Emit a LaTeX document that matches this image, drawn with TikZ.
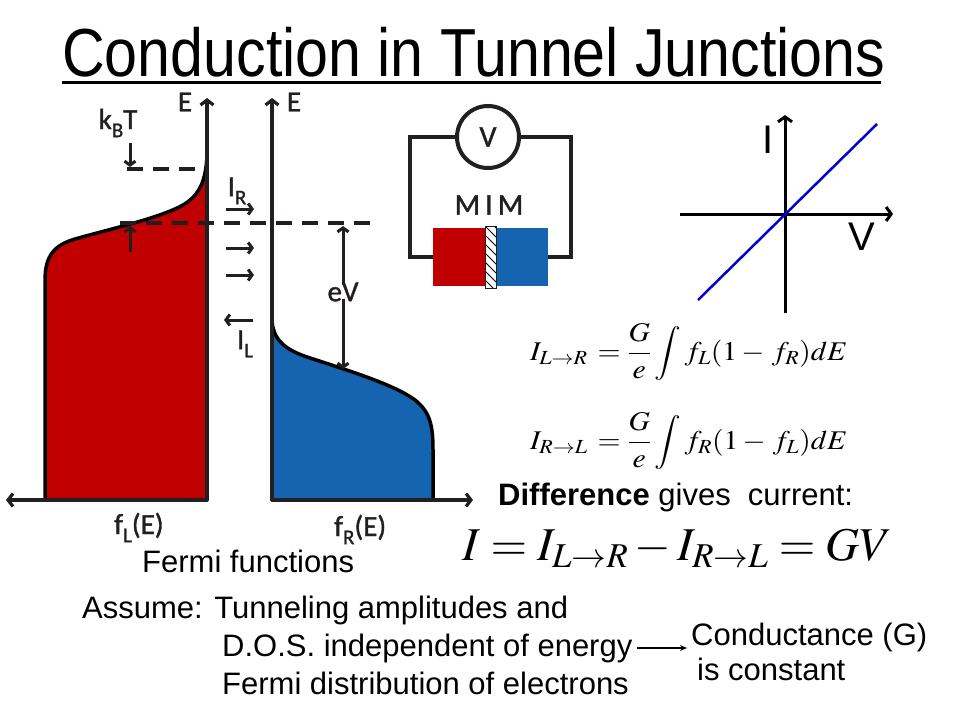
\documentclass[tikz,border=0pt]{standalone}
\usepackage{mathptmx}
\usepackage[no-math]{fontspec}
\setmainfont{Liberation Sans}
\newfontfamily\cali{Carlito}[FakeBold=1.2]
\usetikzlibrary{arrows.meta}
\DeclareMathSizes{27}{27}{20}{15}
\DeclareMathSizes{50}{50}{37}{28}
\definecolor{ink}{HTML}{231F20}
\definecolor{jred}{RGB}{192,0,0}
\definecolor{jblue}{RGB}{20,100,175}
\definecolor{ivblue}{RGB}{0,0,210}
\newcommand\lsub[1]{\raisebox{-0.28em}{\fontsize{21}{22}\selectfont #1}}
\tikzset{
  axisline/.style={line width=3.2pt, draw=ink, line cap=round, -{Straight Barb[length=5pt,width=13pt]}},
  smallarr/.style={line width=3pt, draw=ink, -{Straight Barb[length=4pt,width=11pt]}},
  outline/.style={line width=3.5pt, draw=black, line join=round},
  dashline/.style={line width=3.5pt, draw=ink, dash pattern=on 16pt off 10pt},
  wire/.style={line width=4pt, draw=ink, line join=miter},
  lab/.style={font=\cali\fontsize{29}{31}\selectfont, text=ink, inner sep=0pt},
  txt/.style={font=\fontsize{31}{36}\selectfont, text=black, inner sep=0pt},
  big/.style={font=\fontsize{40}{44}\selectfont, text=black, inner sep=0pt},
  ivaxis/.style={line width=3pt, draw=black, -{Straight Barb[length=5pt,width=14pt]}},
}
\begin{document}
\begin{tikzpicture}[x=1pt, y=-1pt]
\fill[white] (0,0) rectangle (960,720);
\useasboundingbox (0,0) rectangle (960,720);

% Title
\node[anchor=base west, inner sep=0pt, font=\fontsize{68}{80}\selectfont] (title) at (62,76) {\scalebox{0.87}[1]{Conduction in Tunnel Junctions}};
\draw[line width=3.5pt] (62,82.5) -- (881,82.5);

% Fermi functions: fills
\fill[jred] (45,500) -- (45,280) .. controls (45,255) and (55,245) .. (75,239) .. controls (110,229) and (160,218) .. (183,205) .. controls (200,195) and (206,180) .. (207,155) -- (207,500) -- cycle;
\draw[outline] (45,500) -- (45,280) .. controls (45,255) and (55,245) .. (75,239) .. controls (110,229) and (160,218) .. (183,205) .. controls (200,195) and (206,180) .. (207,155);
\fill[jblue] (272,500) -- (272,320) .. controls (273,340) and (285,350) .. (310,358) .. controls (350,371) and (395,385) .. (415,400) .. controls (430,412) and (433,425) .. (433,450) -- (433,500) -- cycle;
\draw[outline] (272,320) .. controls (273,340) and (285,350) .. (310,358) .. controls (350,371) and (395,385) .. (415,400) .. controls (430,412) and (433,425) .. (433,450) -- (433,500);

% axes
\coordinate (oL) at (207,500);
\coordinate (oR) at (272,500);
\coordinate (tL) at (207,98);
\coordinate (tR) at (272,98);
\coordinate (xL) at (6,500);
\coordinate (xR) at (473,500);
\draw[axisline] (oL) -- (tL);
\draw[axisline] (oL) -- (xL);
\draw[axisline] (oR) -- (tR);
\draw[axisline] (oR) -- (xR);

% dashed levels
\coordinate (kt1) at (127,169);
\coordinate (kt2) at (205,169);
\coordinate (ef1) at (120,223);
\coordinate (ef2) at (370,223);
\draw[dashline] (kt1) -- (kt2);
\draw[dashline] (ef1) -- (ef2);

% labels
\node[lab] (El) at (185,102) {E};
\node[lab] (Er) at (294,102) {E};
\node[lab] (kbt) at (118,123) {k\lsub{B}T};
\coordinate (kd1) at (130,143);
\coordinate (kd2) at (130,167);
\coordinate (ku1) at (130,252);
\coordinate (ku2) at (130,226);
\draw[smallarr] (kd1) -- (kd2);
\draw[smallarr] (ku1) -- (ku2);

\node[lab] (IR) at (237,191) {I\lsub{R}};
\node[lab] (IL) at (245,344) {I\lsub{L}};
\foreach \yy/\nm in {209/a,248/b,275/c}{
  \coordinate (r1\nm) at (226,\yy);
  \coordinate (r2\nm) at (254,\yy);
  \draw[smallarr] (r1\nm) -- (r2\nm);
}
\coordinate (l1) at (253,320);
\coordinate (l2) at (224,320);
\draw[smallarr] (l1) -- (l2);

\node[lab] (eV) at (343,292) {eV};
\coordinate (evt) at (343,226);
\coordinate (evb) at (343,369);
\draw[smallarr] ([yshift=-3pt]eV.north) -- (evt);
\draw[smallarr] ([yshift=3pt]eV.south) -- (evb);

\node[lab, anchor=base west] (fL) at (114,534) {f\lsub{L}(E)};
\node[lab, anchor=base west] (fR) at (334,536) {f\lsub{R}(E)};
\node[txt, anchor=base west] (ff) at (142,572) {Fermi functions};

% circuit
\node[circle, draw=ink, line width=4pt, minimum size=62pt, inner sep=0pt, font=\cali\fontsize{30}{32}\selectfont, text=ink] (vm) at (488,137) {V};
\coordinate (w1) at (410,137);
\coordinate (w2) at (410,257);
\coordinate (w3) at (440,257);
\coordinate (w4) at (571,137);
\coordinate (w5) at (571,257);
\coordinate (w6) at (540,257);
\draw[wire] (vm.west) -- (w1) -- (w2) -- (w3);
\draw[wire] (vm.east) -- (w4) -- (w5) -- (w6);
\fill[jred] (433,228) rectangle (485,286);
\fill[jblue] (496,228) rectangle (548,286);
\fill[white] (485,226) rectangle (496,288);
\begin{scope}
\clip (485,226) rectangle (496,288);
\foreach \k in {0,...,9} \draw[line width=0.8pt] (480,212+\k*9) -- (502,234+\k*9);
\end{scope}
\draw[line width=1pt, draw=ink] (485,226) rectangle (496,288);
\node[lab, font=\cali\fontsize{30}{32}\selectfont] (mim) at (489,205) {M\,I\,M};

% I-V plot
\coordinate (iv0) at (785,313);
\coordinate (iv1) at (785,115);
\coordinate (iv2) at (680,214);
\coordinate (iv3) at (893,214);
\draw[ivaxis] (iv0) -- (iv1);
\draw[ivaxis] (iv2) -- (iv3);
\coordinate (bl1) at (698,300);
\coordinate (bl2) at (877,124);
\draw[line width=2.5pt, ivblue] (bl1) -- (bl2);
\node[big] (Ilab) at (768,140) {I};
\node[big] (Vlab) at (862,237) {V};

% equations
\node[anchor=west, inner sep=0pt, font=\fontsize{27}{32}\selectfont] (eq1) at (530,352) {\scalebox{1.1}[1]{$\displaystyle I_{L\to R}\,=\frac{G}{e}\int f_L(1-\,f_R)dE$}};
\node[anchor=west, inner sep=0pt, font=\fontsize{27}{32}\selectfont] (eq2) at (530,441) {\scalebox{1.1}[1]{$\displaystyle I_{R\to L}\,=\frac{G}{e}\int f_R(1-\,f_L)dE$}};
\node[txt, anchor=base west] (diff) at (498,505) {\textbf{Difference} gives\ \ current:};
\node[anchor=base west, inner sep=0pt, font=\fontsize{50}{60}\selectfont] (eqI) at (462,560) {\resizebox{430pt}{!}{$I=I_{L\to R}-I_{R\to L}=GV$}};

% assumptions
\node[txt, anchor=base west] (as1) at (82,618) {Assume: Tunneling amplitudes and};
\node[txt, anchor=base west] (as2) at (222,656) {D.O.S. independent of energy};
\node[txt, anchor=base west] (as3) at (222,694) {Fermi distribution of electrons};
\node[txt, anchor=base west] (co1) at (691,645) {Conductance (G)};
\node[txt, anchor=base west] (co2) at (697,680) {is constant};
\draw[line width=1.5pt, -{Stealth[length=7pt,width=6pt]}] ([xshift=4pt]as2.east) -- ([xshift=-4pt]as2.east -| co1.west);
\end{tikzpicture}
\end{document}
